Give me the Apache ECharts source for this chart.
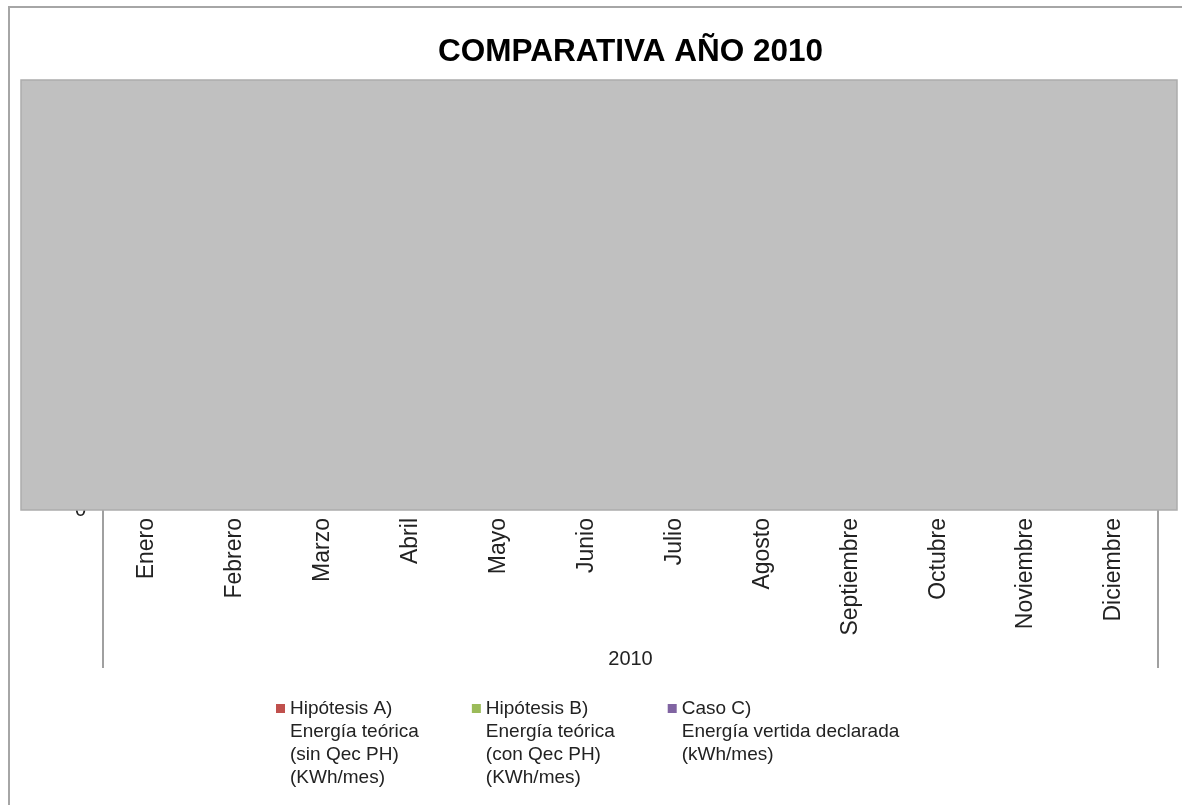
<!DOCTYPE html>
<html>
<head>
<meta charset="utf-8">
<title>Comparativa año 2010</title>
<script src="https://cdn.jsdelivr.net/npm/echarts@6/dist/echarts.min.js"></script>
<style>
  html, body { margin: 0; padding: 0; background: #ffffff; }
  #chart { width: 1182px; height: 805px; }
</style>
</head>
<body>
<div id="chart"></div>
<script>
// Months of the year, grouped under the year label
const months = ['Enero', 'Febrero', 'Marzo', 'Abril', 'Mayo', 'Junio', 'Julio',
  'Agosto', 'Septiembre', 'Octubre', 'Noviembre', 'Diciembre'];
const yearGroup = ['2010'];

// Series names (legend entries)
const nameA = 'Hipótesis A)\nEnergía teórica\n(sin Qec PH)\n(KWh/mes)';
const nameB = 'Hipótesis B)\nEnergía teórica\n(con Qec PH)\n(KWh/mes)';
const nameC = 'Caso C)\nEnergía vertida declarada\n(kWh/mes)';

// Monthly values: the plot area is covered by an opaque panel, no value is shown
const hipotesisA = [null, null, null, null, null, null, null, null, null, null, null, null];
const hipotesisB = [null, null, null, null, null, null, null, null, null, null, null, null];
const casoC = [null, null, null, null, null, null, null, null, null, null, null, null];

// Y axis tick labels
const yTicks = ['0'];

const FONT = '"Liberation Sans", Arial, sans-serif';
const LINE_H = 23;

// legend text is centred on its marker; leading blank lines put the marker
// beside the first line of a multi-line entry
function legendText(name) {
  const lines = name.split('\n').length;
  return '\n'.repeat(lines - 1) + name;
}

const chart = echarts.init(document.getElementById('chart'));

chart.setOption({
  animation: false,
  backgroundColor: '#ffffff',
  textStyle: { fontFamily: FONT },
  title: {
    text: 'COMPARATIVA AÑO 2010',
    left: 438,
    top: 36,
    padding: 0,
    textStyle: { fontFamily: FONT, fontSize: 31.5, fontWeight: 'bold', color: '#000000' }
  },
  legend: {
    left: 276,
    top: 628,
    padding: 0,
    orient: 'horizontal',
    itemGap: 53,
    itemWidth: 9,
    itemHeight: 9,
    icon: 'rect',
    selectedMode: false,
    formatter: legendText,
    textStyle: { fontFamily: FONT, fontSize: 19, color: '#222222', lineHeight: LINE_H },
    data: [nameA, nameB, nameC]
  },
  grid: { left: 103, right: 24, top: 80, bottom: 295, containLabel: false },
  xAxis: [
    {
      type: 'category',
      data: months,
      position: 'bottom',
      axisLine: { show: false },
      axisTick: { show: false },
      axisLabel: {
        interval: 0,
        rotate: 90,
        margin: 8,
        fontFamily: FONT,
        fontSize: 23,
        color: '#222222'
      }
    },
    {
      type: 'category',
      data: yearGroup,
      position: 'bottom',
      axisLine: { show: false },
      axisTick: { show: true, length: 158, lineStyle: { color: '#a0a0a0', width: 2 } },
      axisLabel: { margin: 139, fontFamily: FONT, fontSize: 20, color: '#222222' }
    }
  ],
  yAxis: {
    type: 'value',
    min: 0,
    max: 1,
    interval: 1,
    axisLine: { show: false },
    axisTick: { show: false },
    splitLine: { show: false },
    axisLabel: {
      margin: 17,
      fontFamily: FONT,
      fontSize: 20,
      color: '#222222',
      formatter: function (v) { return v === 0 ? yTicks[0] : ''; }
    }
  },
  series: [
    { name: nameA, type: 'bar', data: hipotesisA, itemStyle: { color: '#c0504d' } },
    { name: nameB, type: 'bar', data: hipotesisB, itemStyle: { color: '#9bbb59' } },
    { name: nameC, type: 'bar', data: casoC, itemStyle: { color: '#8064a2' } }
  ],
  graphic: [
    {
      // outer chart frame
      type: 'rect',
      z: 90,
      silent: true,
      shape: { x: 9, y: 7, width: 1200, height: 820 },
      style: { fill: null, stroke: '#a6a6a6', lineWidth: 2 }
    },
    {
      // opaque panel over the plot area
      type: 'rect',
      z: 100,
      silent: true,
      shape: { x: 21, y: 80, width: 1156, height: 430 },
      style: { fill: '#c0c0c0', stroke: '#acacac', lineWidth: 1.5 }
    }
  ]
});
</script>
</body>
</html>
